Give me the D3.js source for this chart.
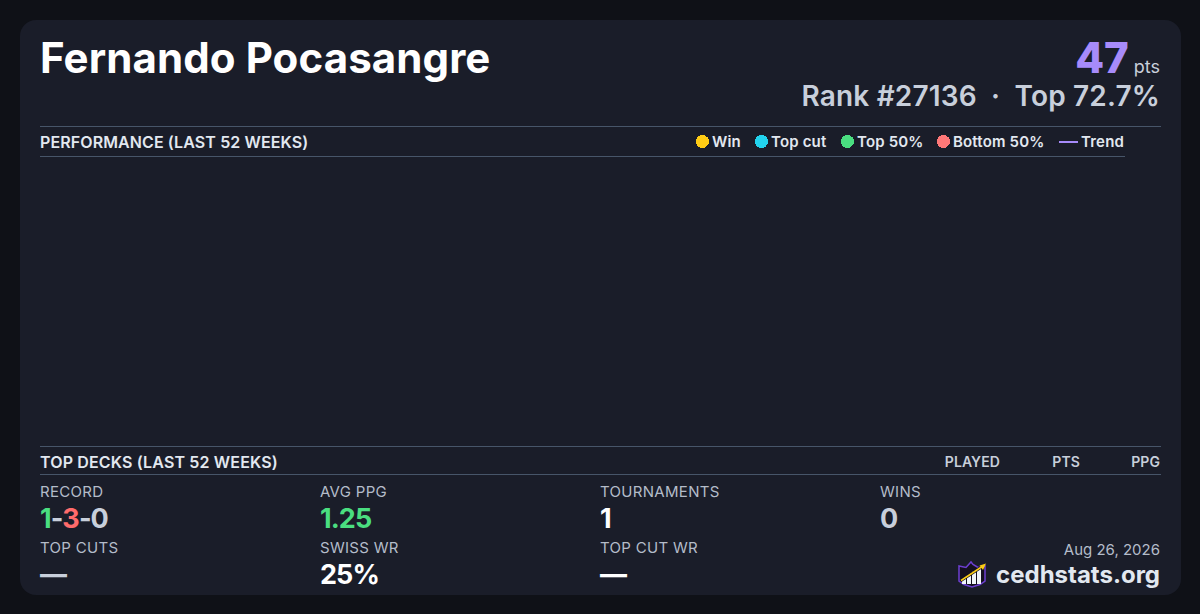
<!DOCTYPE html>
<html>
<head>
<meta charset="utf-8">
<script src="https://cdn.jsdelivr.net/npm/d3@7"></script>
<style>
html,body{margin:0;padding:0;background:#0f1117;}
svg{display:block;}
text{font-family:Inter,sans-serif;font-optical-sizing:none;}
</style>
</head>
<body>
<div id="chart"></div>
<script>
var playerName = "Fernando Pocasangre";
var points = "47";
var rankLine = "Rank #27136  ·  Top 72.7%";
var legendLabels = ["Win", "Top cut", "Top 50%", "Bottom 50%"];
var legendColors = ["#ffcc15", "#22d3ee", "#4ade80", "#ff7878"];
var legendX = [702.5, 761.5, 847.5, 943.5];
var deckColumns = ["PLAYED", "PTS", "PPG"];
var statLabels = ["RECORD", "AVG PPG", "TOURNAMENTS", "WINS", "TOP CUTS", "SWISS WR", "TOP CUT WR"];
var statValues = ["", "1.25", "1", "0", "—", "25%", "—"];
var statColors = ["", "#4ade80", "#fff", "#c8cfdb", "#c8cfdb", "#fff", "#fff"];
var recordParts = ["1", "-", "3", "-", "0"];
var recordColors = ["#4ade80", "#c8cfdb", "#ff6b6b", "#c8cfdb", "#c8cfdb"];

var w = 1200, h = 614;
var svg = d3.select("#chart").append("svg").attr("width", w).attr("height", h);

function addText(x, y, str, size, weight, fill, anchor) {
	return svg.append("text")
		.attr("x", x).attr("y", y)
		.attr("font-size", size)
		.attr("font-weight", weight)
		.attr("fill", fill)
		.attr("text-anchor", anchor || "start")
		.text(str);
}

svg.append("rect").attr("width", w).attr("height", h).attr("fill", "#0f1117");
svg.append("rect").attr("x", 20).attr("y", 20).attr("width", 1161).attr("height", 575).attr("rx", 16).attr("fill", "#1a1d29");

addText(40, 73, playerName, 42, 700, "#fff").attr("letter-spacing", .1);
var pts = addText(1160, 73, "", 42, 800, "#a78bfa", "end");
pts.append("tspan").text(points);
pts.append("tspan").attr("font-size", 18).attr("font-weight", 400).attr("fill", "#c8cfdb").attr("dx", 5).text("pts");
addText(1160, 106, rankLine, 28, 600, "#c8cfdb", "end").attr("xml:space", "preserve").attr("letter-spacing", .15);

function rule(x1, x2, y) {
	svg.append("line").attr("x1", x1).attr("x2", x2).attr("y1", y + .5).attr("y2", y + .5).attr("stroke", "#475569");
}
rule(40, 1161, 126);
rule(40, 1125, 156);
rule(40, 1161, 446);
rule(40, 1161, 474);

addText(40, 148, "PERFORMANCE (LAST 52 WEEKS)", 16, 600, "#e2e8f0").attr("letter-spacing", .1);
legendLabels.forEach(function(d, i) {
	svg.append("circle").attr("cx", legendX[i]).attr("cy", 141.5).attr("r", 6.5).attr("fill", legendColors[i]).attr("shape-rendering", "crispEdges");
	addText(legendX[i] + 9.5, 147, d, 15, 600, "#e2e8f0").attr("letter-spacing", .17);
});
svg.append("line").attr("x1", 1059).attr("x2", 1078).attr("y1", 142).attr("y2", 142).attr("stroke", "#a78bfa").attr("stroke-width", 2);
addText(1081, 147, "Trend", 15, 600, "#e2e8f0").attr("letter-spacing", .2);

addText(40, 468, "TOP DECKS (LAST 52 WEEKS)", 16, 600, "#e2e8f0").attr("letter-spacing", .15);
var colX = [1000, 1080, 1160];
deckColumns.forEach(function(d, i) { addText(colX[i], 467, d, 14, 600, "#c8cfdb", "end").attr("letter-spacing", .1); });

var statX = d3.scaleOrdinal().domain([0, 1, 2, 3]).range([40, 320, 600, 880]);
statLabels.forEach(function(d, i) {
	var col = i % 4, row = Math.floor(i / 4);
	addText(statX(col), 497 + row * 56, d, 15, 400, "#b4bcc9").attr("letter-spacing", .3);
	if (i > 0) addText(statX(col), 528 + row * 56, statValues[i], 27, 700, statColors[i]).attr("letter-spacing", -.9);
});
var rec = addText(40, 528, "", 27, 700, "#fff").attr("letter-spacing", -.9);
recordParts.forEach(function(d, i) { rec.append("tspan").attr("fill", recordColors[i]).text(d); });

addText(1160, 555, "Aug 26, 2026", 15, 400, "#b4bcc9", "end");
addText(1160, 583, "cedhstats.org", 24, 700, "#e2e8f0", "end");

// logo: crown shield with rising bars and arrow
var logo = svg.append("g").attr("transform", "translate(958,561)");
logo.append("path").attr("d", "M1 5L8 6.5L13 1L15 3.5L20 6.5L27 5V20L22 23.5L14 26L6 23.5L1 20Z").attr("fill", "#14101f").attr("stroke", "#6d3fd1").attr("stroke-width", 1.5);
[[4, 17, 4], [9, 14, 4], [14, 10, 4], [19, 8, 4]].forEach(function(b) {
	logo.append("rect").attr("x", b[0]).attr("y", b[1]).attr("width", b[2]).attr("height", 23 - b[1]).attr("fill", "#f1f5f9");
});
logo.append("path").attr("d", "M3 19.5L25 5").attr("stroke", "#14101f").attr("stroke-width", 3);
logo.append("path").attr("d", "M3 19.5L25 5").attr("stroke", "#facc15").attr("stroke-width", 1.5);
logo.append("path").attr("d", "M28 2.5L21.5 4.5L25 9Z").attr("fill", "#facc15");
</script>
</body>
</html>
